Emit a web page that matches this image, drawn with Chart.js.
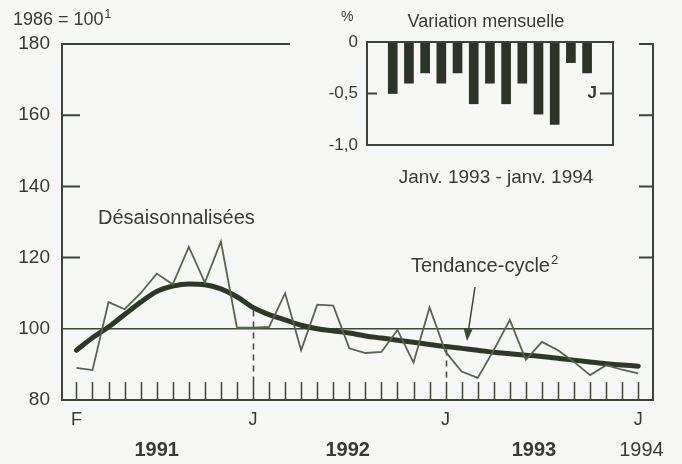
<!DOCTYPE html>
<html>
<head>
<meta charset="utf-8">
<script src="https://cdn.jsdelivr.net/npm/chart.js@4"></script>
<style>
  body { margin:0; background:#f7f7f5; }
  #boite { position:relative; width:682px; height:464px; }
  #principal { position:absolute; left:0; top:0; }
  #encart { position:absolute; left:310px; top:0; }
</style>
</head>
<body>
<div id="boite">
  <canvas id="principal" width="682" height="464"></canvas>
  <canvas id="encart" width="320" height="195"></canvas>
</div>
<script>
// données : février 1991 (indice 0) à janvier 1994 (indice 35)
var desaisonnalisees = [89, 88.4, 107.5, 105.5, 110, 115.5, 112.5, 123, 113, 124.5, 100.3, 100.3,
    100.5, 110, 94, 106.8, 106.5, 94.5, 93.2, 93.5, 99.7, 90.5, 106, 93.5,
    88, 86.2, 94, 102.5, 91.3, 96.3, 94, 90.7, 87, 89.8, 88.5, 87.5];
var tendanceCycle = [94, 97.5, 100.5, 104, 107.5, 110.5, 112, 112.6, 112.4, 111.2, 109, 106,
    104, 102.5, 101, 100, 99.4, 98.8, 98, 97.4, 96.8, 96.2, 95.6, 95,
    94.5, 94, 93.4, 93, 92.6, 92.2, 91.7, 91.2, 90.7, 90.2, 89.8, 89.5];
var moisIndices = [0, 11, 23, 35];
var moisEtiquettes = ['F', 'J', 'J', 'J'];
var annees = ['1991', '1992', '1993', '1994'];
var yTicks = [80, 100, 120, 140, 160, 180];

// encart : variation mensuelle, janv. 1993 - janv. 1994 (%)
var variationMensuelle = [-0.5, -0.4, -0.3, -0.4, -0.3, -0.6, -0.4, -0.6, -0.4, -0.7, -0.8, -0.2, -0.3];
var encartTicks = [0, -0.5, -1];

var POLICE = "'Liberation Sans', Arial, sans-serif";
var COUL_AXE = '#3b4636';
var COUL_TEXTE = '#383a36';

var cadre = {
    id: 'cadre',
    beforeDatasetsDraw: function(chart){
        var ctx = chart.ctx;
        var a = chart.chartArea;
        var x = chart.scales.x, y = chart.scales.y;
        ctx.save();
        ctx.strokeStyle = COUL_AXE;
        ctx.lineWidth = 2;
        ctx.beginPath();
        ctx.moveTo(290, a.top); ctx.lineTo(a.left, a.top);
        ctx.lineTo(a.left, a.bottom); ctx.lineTo(a.right, a.bottom);
        ctx.lineTo(a.right, a.top); ctx.lineTo(a.right - 14, a.top);
        ctx.stroke();
        // graduations gauche / droite
        ctx.beginPath();
        [120, 140, 160].forEach(function(v){
            var py = y.getPixelForValue(v);
            ctx.moveTo(a.left, py); ctx.lineTo(a.left + 18, py);
            ctx.moveTo(a.right, py); ctx.lineTo(a.right - 14, py);
        });
        ctx.stroke();
        // ligne 100
        ctx.lineWidth = 1.6;
        ctx.beginPath();
        var p100 = y.getPixelForValue(100);
        ctx.moveTo(a.left, p100); ctx.lineTo(a.right, p100);
        ctx.stroke();
        // graduations mensuelles
        ctx.lineWidth = 1.5;
        ctx.beginPath();
        for (var i = 0; i < desaisonnalisees.length; i++){
            var px = Math.round(x.getPixelForValue(i)) + 0.5;
            ctx.moveTo(px, a.bottom); ctx.lineTo(px, a.bottom - 18);
        }
        ctx.stroke();
        // tirets de janvier
        ctx.setLineDash([6, 5]);
        [11, 23].forEach(function(i){
            var px = Math.round(x.getPixelForValue(i)) + 0.5;
            ctx.beginPath();
            ctx.moveTo(px, y.getPixelForValue(tendanceCycle[i]) + 3);
            ctx.lineTo(px, a.bottom - 18);
            ctx.stroke();
        });
        ctx.restore();
    },
    afterDatasetsDraw: function(chart){
        var ctx = chart.ctx;
        ctx.save();
        ctx.fillStyle = COUL_TEXTE;
        ctx.textBaseline = 'middle';
        ctx.textAlign = 'left';
        ctx.font = '18px ' + POLICE;
        ctx.fillText('1986 = 100', 13, 20);
        var w = ctx.measureText('1986 = 100').width;
        ctx.font = '12px ' + POLICE;
        ctx.fillText('1', 13 + w + 1, 15);
        ctx.font = '20px ' + POLICE;
        ctx.fillText('Désaisonnalisées', 98, 218);
        ctx.fillText('Tendance-cycle', 411, 266);
        w = ctx.measureText('Tendance-cycle').width;
        ctx.font = '13px ' + POLICE;
        ctx.fillText('2', 411 + w + 1, 260);
        // flèche
        ctx.strokeStyle = COUL_AXE;
        ctx.fillStyle = COUL_AXE;
        ctx.lineWidth = 1.5;
        ctx.beginPath();
        ctx.moveTo(475, 287); ctx.lineTo(468.5, 330);
        ctx.stroke();
        ctx.beginPath();
        ctx.moveTo(467, 341); ctx.lineTo(463.5, 328); ctx.lineTo(472.5, 329.5);
        ctx.closePath();
        ctx.fill();
        ctx.restore();
    }
};

var xMin = -0.9, xMax = 35.92;
var principal = new Chart(document.getElementById('principal'), {
    type: 'line',
    data: {
        datasets: [{
            label: 'Désaisonnalisées',
            data: desaisonnalisees.map(function(v, i){ return {x: i, y: v}; }),
            borderColor: '#57644e',
            borderWidth: 1.8,
            pointRadius: 0,
            tension: 0
        }, {
            label: 'Tendance-cycle',
            data: tendanceCycle.map(function(v, i){ return {x: i, y: v}; }),
            borderColor: '#2d3828',
            borderWidth: 5,
            pointRadius: 0,
            borderCapStyle: 'round',
            cubicInterpolationMode: 'monotone'
        }]
    },
    options: {
        responsive: false,
        animation: false,
        layout: { padding: { top: 44, right: 29, left: 0, bottom: 0 } },
        plugins: { legend: { display: false }, tooltip: { enabled: false } },
        scales: {
            x: {
                type: 'linear', min: xMin, max: xMax, bounds: 'data', weight: 0,
                grid: { display: false, drawTicks: false }, border: { display: false },
                afterBuildTicks: function(s){ s.ticks = moisIndices.map(function(v){ return {value: v}; }); },
                afterFit: function(s){ s.height = 36; },
                ticks: {
                    autoSkip: false, maxRotation: 0, padding: 9, color: COUL_TEXTE,
                    font: { family: POLICE, size: 18 },
                    callback: function(v, i){ return moisEtiquettes[i]; }
                }
            },
            x2: {
                type: 'linear', position: 'bottom', min: xMin, max: xMax, bounds: 'data', weight: 1,
                grid: { display: false, drawTicks: false }, border: { display: false },
                afterBuildTicks: function(s){ s.ticks = [5.0, 16.9, 28.5, 35.2].map(function(v){ return {value: v}; }); },
                afterFit: function(s){ s.height = 28; },
                ticks: {
                    autoSkip: false, maxRotation: 0, padding: 2, color: COUL_TEXTE,
                    font: function(c){ return { family: POLICE, size: 20, weight: c.index < 3 ? 'bold' : 'normal' }; },
                    callback: function(v, i){ return annees[i]; }
                }
            },
            y: {
                min: 80, max: 180,
                grid: { display: false, drawTicks: false }, border: { display: false },
                afterBuildTicks: function(s){ s.ticks = yTicks.map(function(v){ return {value: v}; }); },
                afterFit: function(s){ s.width = 62; },
                ticks: { padding: 12, color: COUL_TEXTE, font: { family: POLICE, size: 19 } }
            }
        }
    },
    plugins: [cadre]
});

var cadreEncart = {
    id: 'cadreEncart',
    afterDatasetsDraw: function(chart){
        var ctx = chart.ctx;
        var a = chart.chartArea;
        var y = chart.scales.y;
        ctx.save();
        ctx.strokeStyle = COUL_AXE;
        ctx.lineWidth = 2;
        ctx.strokeRect(a.left, a.top, a.right - a.left, a.bottom - a.top);
        var pm = y.getPixelForValue(-0.5);
        ctx.beginPath();
        ctx.moveTo(a.left, pm); ctx.lineTo(a.left + 10, pm);
        ctx.moveTo(a.right, pm); ctx.lineTo(a.right - 13, pm);
        ctx.stroke();
        ctx.fillStyle = COUL_TEXTE;
        ctx.textBaseline = 'middle';
        ctx.textAlign = 'right';
        ctx.font = 'bold 17px ' + POLICE;
        ctx.fillText('J', a.right - 16, pm);
        ctx.textAlign = 'left';
        ctx.font = '14px ' + POLICE;
        ctx.fillText('%', 31, 17);
        ctx.textAlign = 'center';
        ctx.font = '18px ' + POLICE;
        ctx.fillText('Variation mensuelle', 176, 22);
        ctx.font = '19px ' + POLICE;
        ctx.fillText('Janv. 1993 - janv. 1994', 186, 178);
        ctx.restore();
    }
};

var encart = new Chart(document.getElementById('encart'), {
    type: 'bar',
    data: {
        datasets: [{
            data: variationMensuelle.map(function(v, j){ return {x: j, y: v}; }),
            backgroundColor: '#2b3427',
            barThickness: 9
        }]
    },
    options: {
        responsive: false,
        animation: false,
        layout: { padding: { top: 42, right: 17, left: 0, bottom: 50 } },
        plugins: { legend: { display: false }, tooltip: { enabled: false } },
        scales: {
            x: { type: 'linear', min: -1.59, max: 13.6, offset: false, display: false },
            y: {
                min: -1, max: 0,
                grid: { display: false, drawTicks: false }, border: { display: false },
                afterBuildTicks: function(s){ s.ticks = encartTicks.map(function(v){ return {value: v}; }); },
                afterFit: function(s){ s.width = 57; },
                ticks: {
                    padding: 9, color: COUL_TEXTE, font: { family: POLICE, size: 17 },
                    callback: function(v){ return v === 0 ? '0' : v.toFixed(1).replace('.', ','); }
                }
            }
        }
    },
    plugins: [cadreEncart]
});
</script>
</body>
</html>
